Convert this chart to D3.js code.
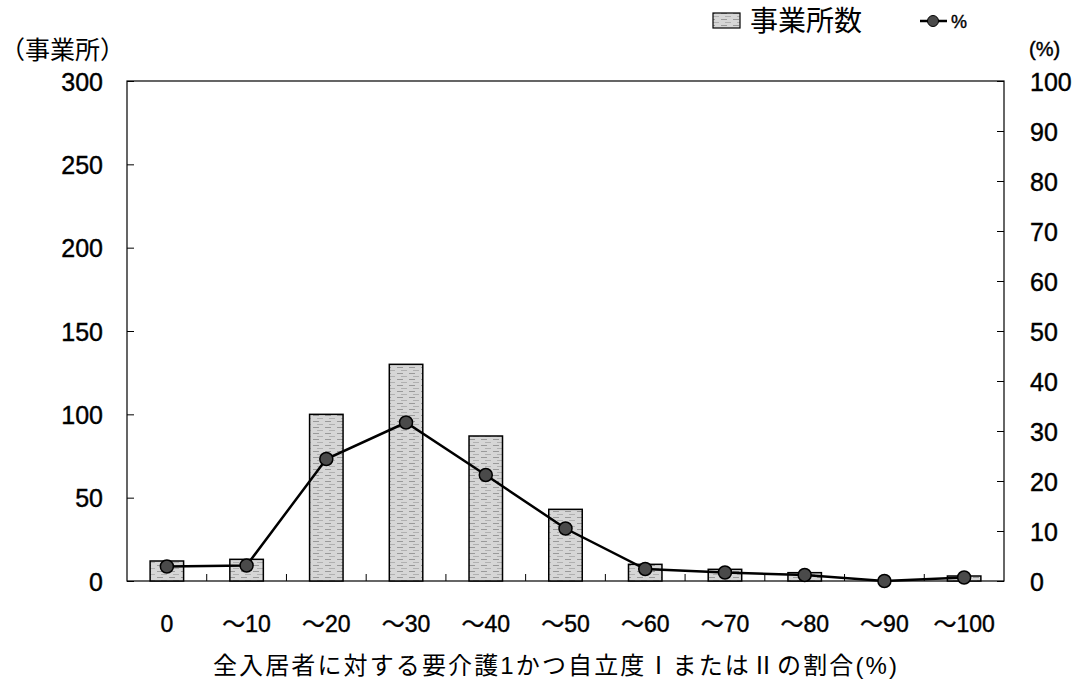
<!DOCTYPE html>
<html>
<head>
<meta charset="utf-8">
<script src="https://cdn.jsdelivr.net/npm/d3@7"></script>
<style>
  body { margin: 0; background: #fff; }
  text { font-family: "Liberation Sans", Arial, "Noto Sans CJK JP", sans-serif; fill: #000; }
  .bold { stroke: #000; stroke-width: 0.4px; }
</style>
</head>
<body>
<div class="graph"></div>
<script>
var categories = ["0", "～10", "～20", "～30", "～40", "～50", "～60", "～70", "～80", "～90", "～100"]
var counts = [12, 13, 100, 130, 87, 43, 10, 7, 5, 0, 3]
var percents = [2.9, 3.1, 24.4, 31.7, 21.2, 10.5, 2.4, 1.7, 1.2, 0, 0.7]
var leftTicks = [0, 50, 100, 150, 200, 250, 300]
var rightTicks = [0, 10, 20, 30, 40, 50, 60, 70, 80, 90, 100]

var draw = function(){
  var w = 1073
  var h = 686
  var pl = 127, pr = 1004, pt = 81, pb = 581

  var svg = d3.select(".graph")
    .append("svg")
    .attr("width", w)
    .attr("height", h)

  // texture for the bars
  var defs = svg.append("defs")
  var pat = defs.append("pattern")
    .attr("id", "grain")
    .attr("width", 12)
    .attr("height", 6)
    .attr("patternUnits", "userSpaceOnUse")
  pat.append("rect").attr("width", 12).attr("height", 6).attr("fill", "#d6d6d6")
  pat.append("line").attr("x1", 1).attr("x2", 7).attr("y1", 1.5).attr("y2", 1.5)
    .attr("stroke", "#999").attr("stroke-width", 1)
  pat.append("line").attr("x1", 5).attr("x2", 11).attr("y1", 4.5).attr("y2", 4.5)
    .attr("stroke", "#b0b0b0").attr("stroke-width", 1)

  var x = d3.scaleBand()
    .domain(categories)
    .range([pl, pr])
    .padding(0)

  var y = d3.scaleLinear().domain([0, 300]).range([pb, pt])
  var y2 = d3.scaleLinear().domain([0, 100]).range([pb, pt])

  // frame
  svg.append("rect")
    .attr("x", pl).attr("y", pt)
    .attr("width", pr - pl).attr("height", pb - pt)
    .attr("fill", "none").attr("stroke", "#000").attr("stroke-width", 1.2)

  // left axis, ticks pointing in
  var yAxis = svg.append("g")
    .attr("transform", "translate(" + pl + ",0)")
    .call(d3.axisLeft(y).tickValues(leftTicks).tickSize(-7).tickPadding(24))
  yAxis.select(".domain").remove()
  yAxis.selectAll("text").attr("class", "bold").style("font-size", "25px").attr("dy", "0.36em")

  // right axis
  var y2Axis = svg.append("g")
    .attr("transform", "translate(" + pr + ",0)")
    .call(d3.axisRight(y2).tickValues(rightTicks).tickSize(-7).tickPadding(26))
  y2Axis.select(".domain").remove()
  y2Axis.selectAll("text").attr("class", "bold").style("font-size", "25px").attr("dy", "0.36em")

  // bottom ticks at category boundaries
  svg.selectAll(".xtick")
    .data(categories.slice(1))
    .enter()
    .append("line")
    .attr("x1", function(d){ return x(d) })
    .attr("x2", function(d){ return x(d) })
    .attr("y1", pb)
    .attr("y2", pb - 7)
    .attr("stroke", "#000")

  svg.selectAll(".xlabel")
    .data(categories)
    .enter()
    .append("text")
    .attr("class", "bold")
    .attr("x", function(d){ return x(d) + x.bandwidth() / 2 })
    .attr("y", 632)
    .attr("text-anchor", "middle")
    .style("font-size", "23px")
    .text(function(d){ return d })

  // bars
  var bw = x.bandwidth() * 0.42
  svg.selectAll(".bar")
    .data(counts)
    .enter()
    .append("rect")
    .attr("x", function(d, i){ return x(categories[i]) + x.bandwidth() / 2 - bw / 2 })
    .attr("y", function(d){ return y(d) })
    .attr("width", bw)
    .attr("height", function(d){ return pb - y(d) })
    .attr("fill", "url(#grain)")
    .attr("stroke", function(d){ return d > 0 ? "#000" : "none" })
    .attr("stroke-width", 1.5)

  // percent line
  var line = d3.line()
    .x(function(d, i){ return x(categories[i]) + x.bandwidth() / 2 })
    .y(function(d){ return y2(d) })

  svg.append("path")
    .datum(percents)
    .attr("d", line)
    .attr("fill", "none")
    .attr("stroke", "#000")
    .attr("stroke-width", 2.5)

  svg.selectAll(".dot")
    .data(percents)
    .enter()
    .append("circle")
    .attr("cx", function(d, i){ return x(categories[i]) + x.bandwidth() / 2 })
    .attr("cy", function(d){ return y2(d) })
    .attr("r", 6.5)
    .attr("fill", "#4a4a4a")
    .attr("stroke", "#000")
    .attr("stroke-width", 1.5)

  // unit labels
  svg.append("text").attr("x", 0).attr("y", 59)
    .style("font-size", "25px").text("（事業所）")
  svg.append("text").attr("x", 1029).attr("y", 56)
    .attr("class", "bold")
    .style("font-size", "20px").text("(%)")

  // axis title
  svg.append("text")
    .attr("x", 213).attr("y", 674)
    .attr("textLength", 684)
    .attr("lengthAdjust", "spacing")
    .style("font-size", "24px")
    .text("全入居者に対する要介護1かつ自立度ⅠまたはⅡの割合(%)")

  // legend
  var lg = svg.append("g")
  lg.append("rect").attr("x", 713).attr("y", 13).attr("width", 27).attr("height", 15)
    .attr("fill", "url(#grain)").attr("stroke", "#000").attr("stroke-width", 1.2)
  lg.append("text").attr("x", 750).attr("y", 31).style("font-size", "28px").text("事業所数")
  lg.append("line").attr("x1", 920).attr("x2", 947).attr("y1", 21).attr("y2", 21)
    .attr("stroke", "#000").attr("stroke-width", 2.5)
  lg.append("circle").attr("cx", 933).attr("cy", 21).attr("r", 5.5)
    .attr("fill", "#4a4a4a").attr("stroke", "#000")
  lg.append("text").attr("x", 951).attr("y", 28).attr("class", "bold")
    .style("font-size", "18px").text("%")
}

draw()
</script>
</body>
</html>
